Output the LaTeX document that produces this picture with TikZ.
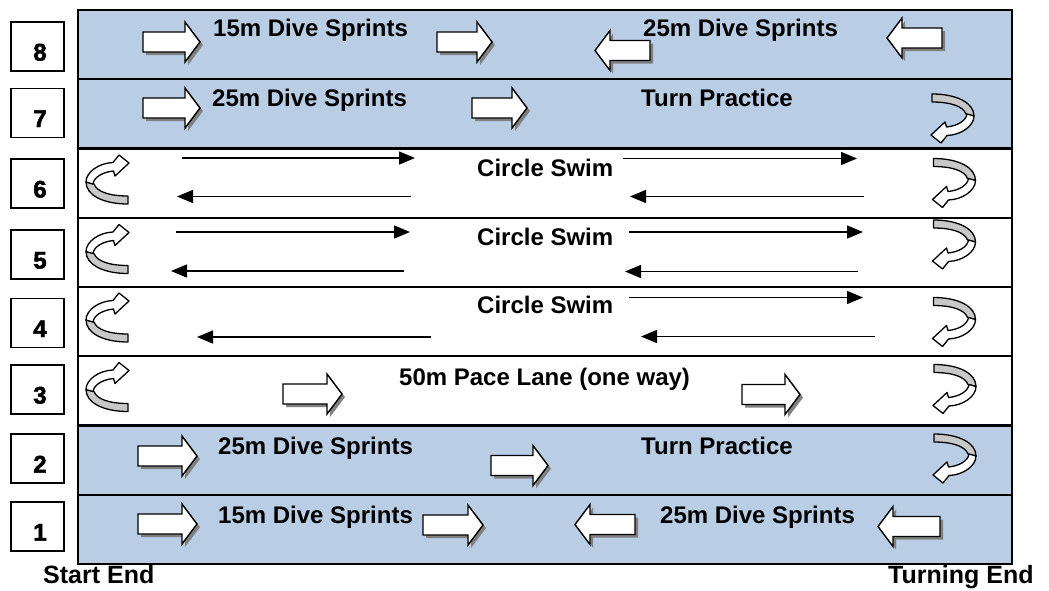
\documentclass[tikz,border=0pt]{standalone}
\usepackage{fontspec}
\setmainfont{Liberation Sans}
\newfontfamily\digitfont{Liberation Sans}[BoldFeatures={FakeBold=2}]
\usetikzlibrary{arrows.meta}
\definecolor{laneblue}{RGB}{185,205,229}
\definecolor{shadowgray}{RGB}{128,128,128}
\definecolor{bandgray}{RGB}{200,200,200}
\tikzset{
  lanetext/.style={anchor=base west, inner sep=0pt, font=\fontsize{24}{28}\selectfont\bfseries},
  endtext/.style={anchor=base west, inner sep=0pt, font=\fontsize{25}{29}\selectfont\bfseries},
  lanebox/.style={draw=black, line width=1.8pt, fill=white, minimum width=53pt, minimum height=49pt, inner sep=0pt},
  digit/.style={anchor=base, inner sep=0pt, font=\fontsize{24}{28}\selectfont\digitfont\bfseries},
  divider/.style={line width=2.4pt},
  swimline/.style={line width=1.4pt, -{Triangle[length=16pt,width=13pt]}},
  arrbody/.style={draw=black, fill=white, line width=1.4pt, line join=miter},
  arrshadow/.style={fill=shadowgray},
  uturn/.pic={
    \begin{scope}[shift={(-21.5,-24.5)}, line width=1.3pt, line join=round]
      \filldraw[fill=bandgray, draw=black] (43,49) .. controls (18,49) and (1,40) .. (1,27)
        -- (9,29) .. controls (12,37) and (25,41) .. (43,41) -- cycle;
      \filldraw[fill=white, draw=black] (1,27) .. controls (1,17) and (14,8) .. (28,7.5)
        -- (34,0) -- (44,8) -- (30,21) -- (28.5,16) .. controls (18,17) and (9,22) .. (8,29) -- cycle;
    \end{scope}
  }
}
% right-pointing block arrow: left x, centre y, length
\newcommand{\rarr}[3]{%
  \begin{scope}[shift={(#1,#2)}]
    \fill[arrshadow, shift={(3,3)}] (0,-10) -- ({#3-15},-10) -- ({#3-15},-20) -- (#3,0) -- ({#3-15},20) -- ({#3-15},10) -- (0,10) -- cycle;
    \draw[arrbody] (0,-10) -- ({#3-15},-10) -- ({#3-15},-20) -- (#3,0) -- ({#3-15},20) -- ({#3-15},10) -- (0,10) -- cycle;
  \end{scope}}
% left-pointing block arrow: right x, centre y, length
\newcommand{\larr}[3]{%
  \begin{scope}[shift={(#1,#2)}]
    \fill[arrshadow, shift={(3,3)}, xscale=-1] (0,-10) -- ({#3-15},-10) -- ({#3-15},-20) -- (#3,0) -- ({#3-15},20) -- ({#3-15},10) -- (0,10) -- cycle;
    \draw[arrbody, xscale=-1] (0,-10) -- ({#3-15},-10) -- ({#3-15},-20) -- (#3,0) -- ({#3-15},20) -- ({#3-15},10) -- (0,10) -- cycle;
  \end{scope}}
\begin{document}
\begin{tikzpicture}[x=1pt, y=-1pt]
\useasboundingbox (0,0) rectangle (1049,590);
\fill[white] (0,0) rectangle (1049,590);
% lanes
\fill[laneblue] (78,10) rectangle (1012,148.5);
\fill[laneblue] (78,425.5) rectangle (1012,564);
\foreach \k in {1,...,7} {
  \draw[divider] (78,{10+69.25*\k}) -- (1012,{10+69.25*\k});
}
\draw[line width=2.8pt] (78,10) rectangle (1012,564);

% lane number boxes
\foreach \n/\c in {8/46.5, 7/113, 6/183.5, 5/254.5, 4/323, 3/389.5, 2/458.5, 1/526.5} {
  \node[lanebox] (b\n) at (37.5,\c) {};
  \node[digit] (d\n) at (40,{\c+14}) {\n};
}

% lane 8
\rarr{143}{42}{57}
\node[lanetext] (t8a) at (213,36) {15m Dive Sprints};
\rarr{437}{42}{55}
\larr{650}{50.5}{55}
\node[lanetext] (t8b) at (643,36) {25m Dive Sprints};
\larr{942}{38}{55}

% lane 7
\rarr{143}{108}{57}
\node[lanetext] (t7a) at (212,106) {25m Dive Sprints};
\rarr{472}{108}{55}
\node[lanetext] (t7b) at (641,106) {Turn Practice};
\pic at (953.5,118.5) [rotate=180] {uturn};

% lane 6
\pic at (106.5,179.5) {uturn};
\draw[swimline] (182,158) -- (415,158);
\draw[swimline] (411,196.5) -- (177,196.5);
\node[lanetext] (t6) at (477,176) {Circle Swim};
\draw[swimline] (623,158.5) -- (857,158.5);
\draw[swimline] (864,196.5) -- (630,196.5);
\pic at (955,183) [rotate=180] {uturn};

% lane 5
\pic at (106.5,249) {uturn};
\draw[swimline] (176,232) -- (410,232);
\draw[swimline] (404,271) -- (171,271);
\node[lanetext] (t5) at (477,245) {Circle Swim};
\draw[swimline] (629,232) -- (863,232);
\draw[swimline] (858,271.5) -- (625,271.5);
\pic at (955,244.5) [rotate=180] {uturn};

% lane 4
\pic at (106.5,317.5) {uturn};
\node[lanetext] (t4) at (477,313.5) {Circle Swim};
\draw[swimline] (629,297.5) -- (863,297.5);
\draw[swimline] (431,337) -- (197,337);
\draw[swimline] (875,336.5) -- (641,336.5);
\pic at (955,322) [rotate=180] {uturn};

% lane 3
\pic at (106.5,387) {uturn};
\rarr{283}{394}{59}
\node[lanetext] (t3) at (399,385) {50m Pace Lane (one way)};
\rarr{742}{394.5}{58}
\pic at (955.5,389) [rotate=180] {uturn};

% lane 2
\rarr{138}{456}{59}
\node[lanetext] (t2a) at (218,454) {25m Dive Sprints};
\rarr{491}{465.5}{57}
\node[lanetext] (t2b) at (641,454) {Turn Practice};
\pic at (955.5,458.5) [rotate=180] {uturn};

% lane 1
\rarr{138}{524}{59}
\node[lanetext] (t1a) at (218,523) {15m Dive Sprints};
\rarr{423}{525}{60}
\larr{635}{524.5}{60}
\node[lanetext] (t1b) at (660,523) {25m Dive Sprints};
\larr{940}{526.5}{62}

% end labels
\node[endtext] (start) at (43,583) {Start End};
\node[endtext] (turn) at (888,583) {Turning End};
\end{tikzpicture}
\end{document}
